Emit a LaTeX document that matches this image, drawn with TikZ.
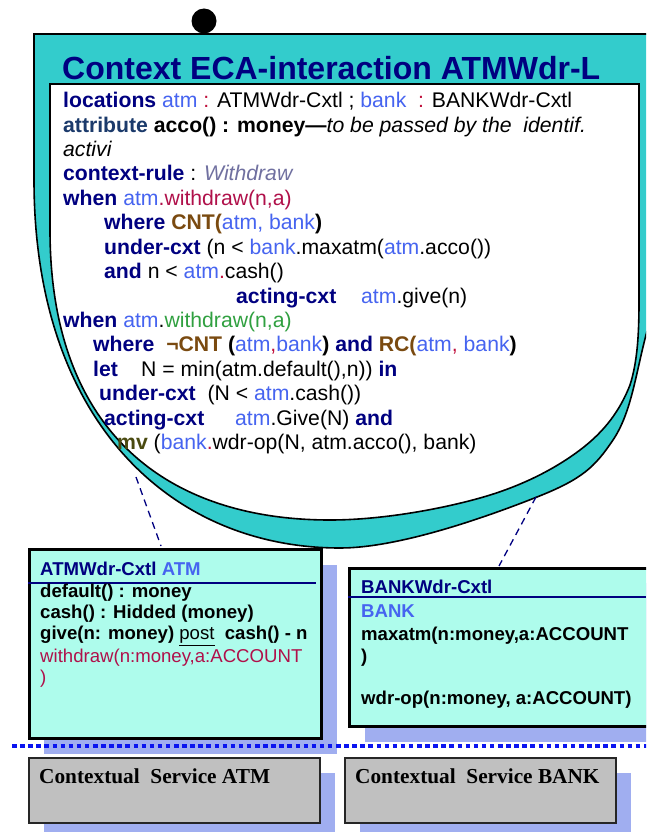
\documentclass[tikz,border=0pt]{standalone}
\usepackage{fontspec}
\setmainfont{Liberation Sans}
\newfontfamily\svcfont{Liberation Serif}

\definecolor{cxteal}{HTML}{33CCCC}
\definecolor{cxnavy}{HTML}{000080}
\definecolor{cxattr}{HTML}{1B3A6B}
\definecolor{cxblue}{HTML}{4664F0}
\definecolor{cxred}{HTML}{C0103C}
\definecolor{cxcrim}{HTML}{B0104A}
\definecolor{cxgreen}{HTML}{30A040}
\definecolor{cxgrey}{HTML}{7070A0}
\definecolor{cxbrown}{HTML}{7A4A10}
\definecolor{cxolive}{HTML}{4A4A10}
\definecolor{cxaqua}{HTML}{AEFCEC}
\definecolor{cxshadow}{HTML}{A0AEF0}
\definecolor{cxgray}{HTML}{C0C0C0}
\definecolor{cxdots}{HTML}{0A14F0}

\newcommand\cxkw[1]{\textcolor{cxnavy}{\textbf{#1}}}
\newcommand\cxob[1]{\textcolor{cxblue}{#1}}
\newcommand\cxrd[1]{\textcolor{cxred}{#1}}
\newcommand\cxbr[1]{\textcolor{cxbrown}{\textbf{#1}}}

\begin{document}
\begin{tikzpicture}[x=1pt,y=-1pt,
  codeline/.style={anchor=base west, inner sep=0pt, font=\fontsize{21.2}{24}\selectfont},
  boxline/.style={anchor=base west, inner sep=0pt, font=\fontsize{18.6}{21}\selectfont\bfseries},
  titleline/.style={anchor=base west, inner sep=0pt, font=\fontsize{32}{36}\selectfont\bfseries, text=cxnavy},
  svcline/.style={anchor=base west, inner sep=0pt, font=\fontsize{21.3}{24}\svcfont\bfseries},
  shadowbox/.style={fill=cxshadow, draw=none},
  classbox/.style={fill=cxaqua, draw=black, line width=3pt},
  svcbox/.style={fill=cxgray, draw=black!85, line width=2pt},
  headrule/.style={draw=cxnavy, line width=2.2pt},
  link/.style={draw=cxnavy, dashed, line width=1.3pt, dash pattern=on 7pt off 5pt},
  dotline/.style={draw=cxdots, line width=4.5pt, dash pattern=on 4.5pt off 3.6pt}
]
\useasboundingbox (0,0) rectangle (646,832);
\clip (0,0) rectangle (646,832);

% anchor dot on top of the context
\fill[black] (204,21) circle [radius=12.5pt];

% context shape: teal frame and white body
\filldraw[fill=cxteal, draw=black, line width=1.6pt]
  (34,34) -- (676,34) -- (676,200)
  .. controls (671,239.2) and (656.5,295) .. (646,335)
  .. controls (635.5,375) and (631.2,413) .. (613,440)
  .. controls (594.8,467) and (582.5,479) .. (537,497)
  .. controls (491.5,515) and (401,548) .. (340,548)
  .. controls (170,548) and (34,420) .. (34,180) -- cycle;
\filldraw[fill=white, draw=black, line width=1.6pt]
  (50,84) -- (639,84) -- (639,300)
  .. controls (639,330) and (638,360) .. (630,385)
  .. controls (620.2,410) and (605,431.2) .. (580,450)
  .. controls (555,468.8) and (521.7,486.3) .. (480,498)
  .. controls (438.3,509.7) and (380,520) .. (330,520)
  .. controls (165,520) and (50,430) .. (50,230) -- cycle;

\node[titleline] (title) at (62,80) {Context ECA-interaction ATMWdr-L};

% rule text
\node[codeline] (l1) at (63,107.5) {\cxkw{locations} \cxob{atm} \cxrd{:} ATMWdr-Cxtl ; \cxob{bank}\ \ \cxrd{:} BANKWdr-Cxtl};
\node[codeline] (l2) at (63,132) {\textcolor{cxattr}{\textbf{attribute}} \textbf{acco() : money---}\textit{to be passed by the\ \ identif.}};
\node[codeline] (l3) at (63,156.4) {\textit{activi}};
\node[codeline] (l4) at (63,180.8) {\cxkw{context-rule} : \textcolor{cxgrey}{\textit{Withdraw}}};
\node[codeline] (l5) at (63,205.3) {\cxkw{when} \cxob{atm}\textcolor{cxcrim}{.withdraw(n,a)}};
\node[codeline] (l6) at (104,229.7) {\cxkw{where} \cxbr{CNT(}\cxob{atm, bank}\textbf{)}};
\node[codeline] (l7) at (104,254.2) {\cxkw{under-cxt} (n < \cxob{bank}.maxatm(\cxob{atm}.acco())};
\node[codeline] (l8) at (104,278.6) {\cxkw{and} n < \cxob{atm}\cxrd{.}cash()};
\node[codeline] (l9a) at (236,303) {\cxkw{acting-cxt}};
\node[codeline] (l9b) at (361,303) {\cxob{atm}.give(n)};
\node[codeline] (l10) at (63,327.5) {\cxkw{when} \cxob{atm}.\textcolor{cxgreen}{withdraw(n,a)}};
\node[codeline] (l11) at (93,351.9) {\cxkw{where}\ \ \cxbr{¬CNT} \textbf{(}\cxob{atm}\cxrd{,}\cxob{bank}\textbf{)} \cxkw{and} \cxbr{RC(}\cxob{atm}\cxrd{,} \cxob{bank}\textbf{)}};
\node[codeline] (l12a) at (93,376.4) {\cxkw{let}};
\node[codeline] (l12b) at (141,376.4) {N = min(atm.default(),n)) \cxkw{in}};
\node[codeline] (l13) at (99,400.8) {\cxkw{under-cxt}\ \ (N < \cxob{atm}.cash())};
\node[codeline] (l14a) at (104,425.3) {\cxkw{acting-cxt}};
\node[codeline] (l14b) at (235,425.3) {\cxob{atm}.Give(N) \cxkw{and}};
\node[codeline] (l15) at (117,449.7) {\textcolor{cxolive}{\textbf{mv}} (\cxob{bank}\cxrd{.}wdr-op(N, atm.acco(), bank)};

% class boxes with their shadows
\fill[shadowbox] (44,565) rectangle (337,754);
\fill[shadowbox] (365,583) rectangle (660,742);
\node[classbox, anchor=north west, minimum width=292pt, minimum height=189pt, inner sep=0pt] (atmbox) at (28,548) {};
\node[classbox, anchor=north west, minimum width=320pt, minimum height=158pt, inner sep=0pt] (bankbox) at (348,567) {};
\draw[headrule] (28,583) -- (316,583);
\draw[headrule] (348,597) -- (646,597);

\node[boxline] (a0) at (40,575) {\textcolor{cxnavy}{ATMWdr-Cxtl} \textcolor{cxblue}{ATM}};
\node[boxline] (a1) at (40,597) {default() : money};
\node[boxline] (a2) at (40,618) {cash() : Hidded (money)};
\node[boxline] (a3) at (40,639.5) {give(n: money) \mdseries\underline{post}\bfseries\ \ cash() - n};
\node[boxline] (a4) at (40,662) {\mdseries\textcolor{cxcrim}{withdraw(n:money,a:ACCOUNT}};
\node[boxline] (a5) at (40,683) {\mdseries\textcolor{cxcrim}{)}};

\node[boxline] (b0) at (361,593) {\textcolor{cxnavy}{BANKWdr-Cxtl}};
\node[boxline] (b1) at (361,617) {\textcolor{cxblue}{BANK}};
\node[boxline] (b2) at (361,640) {maxatm(n:money,a:ACCOUNT};
\node[boxline] (b3) at (361,662) {)};
\node[boxline] (b4) at (361,704) {wdr-op(n:money, a:ACCOUNT)};

% links from the context to its locations
\coordinate (lkA1) at (136,477);
\coordinate (lkA2) at (161,546);
\coordinate (lkB1) at (536,497);
\coordinate (lkB2) at (499,566);
\draw[link] (lkA1) -- (lkA2);
\draw[link] (lkB1) -- (lkB2);

% service layer separator
\coordinate (sep1) at (12,746);
\coordinate (sep2) at (650,746);
\draw[dotline] (sep1) -- (sep2);

% contextual services
\fill[shadowbox] (44,773) rectangle (335,832);
\fill[shadowbox] (360,773) rectangle (631,832);
\node[svcbox, anchor=north west, minimum width=291pt, minimum height=65pt, inner sep=0pt] (svcatm) at (28,757) {};
\node[svcbox, anchor=north west, minimum width=271pt, minimum height=65pt, inner sep=0pt] (svcbank) at (344,757) {};
\node[svcline] (s1) at (39,783) {Contextual\ \ Service ATM};
\node[svcline] (s2) at (355,783) {Contextual\ \ Service BANK};
\end{tikzpicture}
\end{document}
